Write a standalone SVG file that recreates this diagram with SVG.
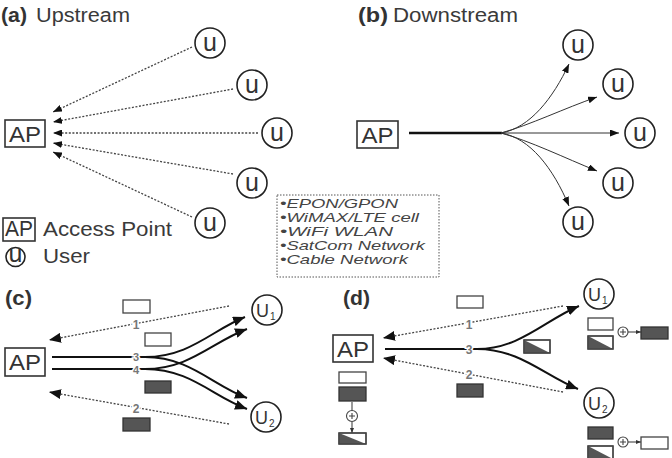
<svg xmlns="http://www.w3.org/2000/svg" width="672" height="458" viewBox="0 0 672 458">
<style>
text{font-family:"Liberation Sans",Arial,sans-serif;fill:#3a3a3a}
.t{font-size:20px}
.b{font-weight:bold;fill:#333}
.ap{fill:#fff;stroke:#333;stroke-width:1.6}
.apt{font-size:22px;fill:#333}
.uc{fill:#fff;stroke:#222;stroke-width:1.6}
.ut{font-size:25px;text-anchor:middle;fill:#333}
.Ut{font-size:19px;fill:#333}
.sub{font-size:10px;fill:#333}
.dot{fill:none;stroke:#444;stroke-width:1.3;stroke-dasharray:2 1.6}
.thin{fill:none;stroke:#333;stroke-width:1}
.thick{fill:none;stroke:#111;stroke-width:2.6}
.med{fill:none;stroke:#111;stroke-width:2}
.lbl{font-size:12px;font-weight:bold;fill:#777;text-anchor:middle;stroke:#fff;stroke-width:3;paint-order:stroke}
.lbs{font-size:11px}
.wr{fill:#fff;stroke:#444;stroke-width:1.3}
.dr{fill:#555;stroke:#333;stroke-width:1.3}
.tri{fill:#555}
.pc{fill:#fff;stroke:#444;stroke-width:1.1}
.pl{stroke:#444;stroke-width:1.1}
.info{font-size:13px;font-style:italic;fill:#444}
</style>
<defs>
<marker id="ah" markerUnits="userSpaceOnUse" markerWidth="9" markerHeight="7" refX="9" refY="3.5" orient="auto"><path d="M0,0 L9,3.5 L0,7 z" fill="#111"/></marker>
<marker id="ahb" markerUnits="userSpaceOnUse" markerWidth="12" markerHeight="10" refX="12" refY="5" orient="auto"><path d="M0,0 L12,5 L0,10 z" fill="#111"/></marker>
<marker id="ahs" markerUnits="userSpaceOnUse" markerWidth="5" markerHeight="4" refX="5" refY="2" orient="auto"><path d="M0,0 L5,2 L0,4 z" fill="#333"/></marker>
</defs>

<!-- Titles -->
<g id="title-a"><text x="1" y="22" class="t b" textLength="26" lengthAdjust="spacingAndGlyphs">(a)</text><text x="36" y="22" class="t" textLength="94" lengthAdjust="spacingAndGlyphs">Upstream</text></g>
<g id="title-b"><text x="358" y="22" class="t b" textLength="30" lengthAdjust="spacingAndGlyphs">(b)</text><text x="393" y="22" class="t" textLength="125" lengthAdjust="spacingAndGlyphs">Downstream</text></g>
<g id="title-c"><text x="5" y="305" class="t b" textLength="27" lengthAdjust="spacingAndGlyphs">(c)</text></g>
<g id="title-d"><text x="343" y="305" class="t b" textLength="27" lengthAdjust="spacingAndGlyphs">(d)</text></g>

<!-- Connectors -->
<g id="connectors">
 <!-- (a) -->
 <line class="dot" x1="192" y1="47" x2="53" y2="112" marker-end="url(#ah)"/>
 <line class="dot" x1="233" y1="89" x2="53" y2="122" marker-end="url(#ah)"/>
 <line class="dot" x1="258" y1="133" x2="53" y2="133" marker-end="url(#ah)"/>
 <line class="dot" x1="233" y1="174" x2="53" y2="143" marker-end="url(#ah)"/>
 <line class="dot" x1="192" y1="217" x2="53" y2="152" marker-end="url(#ah)"/>
 <!-- (b) -->
 <line class="thick" x1="409" y1="133" x2="502" y2="133"/>
 <path class="thin" d="M501,133 C530,128 553,98 569,64" marker-end="url(#ah)"/>
 <path class="thin" d="M501,133 C530,125 565,108 597,97" marker-end="url(#ah)"/>
 <path class="thin" d="M501,133 L619,133" marker-end="url(#ah)"/>
 <path class="thin" d="M501,133 C530,141 565,158 597,171" marker-end="url(#ah)"/>
 <path class="thin" d="M501,133 C530,138 553,168 569,206" marker-end="url(#ah)"/>
 <!-- (c) -->
 <line class="dot" x1="229" y1="306" x2="49" y2="340" marker-end="url(#ahb)"/>
 <line class="dot" x1="229" y1="424" x2="49" y2="392" marker-end="url(#ahb)"/>
 <line class="med" x1="52" y1="357" x2="146" y2="357"/>
 <line class="med" x1="52" y1="369" x2="146" y2="369"/>
 <path class="med" d="M145,357 C190,357 212,330 245,317" marker-end="url(#ahb)"/>
 <path class="med" d="M145,357 C190,357 212,385 247,398" marker-end="url(#ahb)"/>
 <path class="med" d="M145,369 C190,369 212,342 247,329" marker-end="url(#ahb)"/>
 <path class="med" d="M145,369 C190,369 212,396 247,409" marker-end="url(#ahb)"/>
 <text x="136" y="329" class="lbl">1</text>
 <text x="136" y="413" class="lbl">2</text>
 <text x="136" y="361" class="lbl lbs">3</text>
 <text x="136" y="374" class="lbl lbs">4</text>
 <!-- (d) -->
 <line class="dot" x1="563" y1="306" x2="383" y2="338" marker-end="url(#ahb)"/>
 <line class="dot" x1="563" y1="392" x2="383" y2="358" marker-end="url(#ahb)"/>
 <line class="med" x1="385" y1="349" x2="478" y2="349"/>
 <path class="med" d="M477,349 C520,349 545,320 579,306" marker-end="url(#ahb)"/>
 <path class="med" d="M477,349 C520,349 545,376 578,389" marker-end="url(#ahb)"/>
 <text x="469" y="329" class="lbl">1</text>
 <text x="469" y="353.5" class="lbl">3</text>
 <text x="469" y="379" class="lbl">2</text>
 <!-- (d) combine arrows -->
 <line class="pl" x1="628" y1="332" x2="641" y2="332" marker-end="url(#ahs)"/>
 <line class="pl" x1="628" y1="442" x2="641" y2="442" marker-end="url(#ahs)"/>
 <line class="pl" x1="352" y1="422" x2="352" y2="433" marker-end="url(#ahs)"/>
 <line class="pl" x1="352" y1="402" x2="352" y2="411"/>
</g>

<!-- (a) nodes -->
<g id="ap-a"><rect class="ap" x="5" y="120" width="40" height="27"/><text x="25" y="142" class="apt" text-anchor="middle" textLength="32" lengthAdjust="spacingAndGlyphs">AP</text></g>
<g id="u-a1"><circle class="uc" cx="210" cy="43" r="15"/><text x="210" y="51" class="ut">u</text></g>
<g id="u-a2"><circle class="uc" cx="252" cy="85" r="15"/><text x="252" y="93" class="ut">u</text></g>
<g id="u-a3"><circle class="uc" cx="277" cy="133" r="15"/><text x="277" y="141" class="ut">u</text></g>
<g id="u-a4"><circle class="uc" cx="252" cy="183" r="15"/><text x="252" y="191" class="ut">u</text></g>
<g id="u-a5"><circle class="uc" cx="210" cy="223" r="15"/><text x="210" y="231" class="ut">u</text></g>

<!-- legend -->
<g id="legend">
 <rect class="ap" x="3" y="218" width="32" height="23"/><text x="19" y="236" class="apt" text-anchor="middle" font-size="18" textLength="28" lengthAdjust="spacingAndGlyphs">AP</text>
 <text x="43" y="236" class="t" textLength="129" lengthAdjust="spacingAndGlyphs">Access Point</text>
 <circle class="uc" cx="15.5" cy="257" r="9.5" stroke-width="1.3"/><text x="15.5" y="262" class="ut" font-size="16">u</text>
 <text x="43" y="263" class="t" textLength="47" lengthAdjust="spacingAndGlyphs">User</text>
</g>

<!-- info box -->
<g id="info">
 <rect x="277" y="195" width="162" height="82" fill="#fff" stroke="#555" stroke-width="1" stroke-dasharray="1.5 1.5"/>
 <text x="280" y="208" class="info" textLength="118" lengthAdjust="spacingAndGlyphs">•EPON/GPON</text>
 <text x="280" y="222" class="info" textLength="139" lengthAdjust="spacingAndGlyphs">•WiMAX/LTE cell</text>
 <text x="280" y="236" class="info" textLength="113" lengthAdjust="spacingAndGlyphs">•WiFi WLAN</text>
 <text x="280" y="250" class="info" textLength="145" lengthAdjust="spacingAndGlyphs">•SatCom Network</text>
 <text x="280" y="264" class="info" textLength="128" lengthAdjust="spacingAndGlyphs">•Cable Network</text>
</g>

<!-- (b) nodes -->
<g id="ap-b"><rect class="ap" x="357" y="121" width="41" height="27"/><text x="377.5" y="143" class="apt" text-anchor="middle" textLength="32" lengthAdjust="spacingAndGlyphs">AP</text></g>
<g id="u-b1"><circle class="uc" cx="578" cy="45" r="15"/><text x="578" y="53" class="ut">u</text></g>
<g id="u-b2"><circle class="uc" cx="618" cy="84" r="15"/><text x="618" y="92" class="ut">u</text></g>
<g id="u-b3"><circle class="uc" cx="640" cy="133" r="15"/><text x="640" y="141" class="ut">u</text></g>
<g id="u-b4"><circle class="uc" cx="618" cy="183" r="15"/><text x="618" y="191" class="ut">u</text></g>
<g id="u-b5"><circle class="uc" cx="578" cy="222" r="15"/><text x="578" y="230" class="ut">u</text></g>

<!-- (c) nodes -->
<g id="ap-c"><rect class="ap" x="5" y="348" width="40" height="28"/><text x="25" y="370" class="apt" text-anchor="middle" textLength="32" lengthAdjust="spacingAndGlyphs">AP</text></g>
<g id="u1-c"><circle class="uc" cx="267" cy="310" r="15"/><text x="256" y="317" class="Ut" textLength="13" lengthAdjust="spacingAndGlyphs">U</text><text x="270" y="320" class="sub">1</text></g>
<g id="u2-c"><circle class="uc" cx="266" cy="417" r="15"/><text x="255" y="424" class="Ut" textLength="13" lengthAdjust="spacingAndGlyphs">U</text><text x="269" y="427" class="sub">2</text></g>
<g id="pkt-c">
 <rect class="wr" x="123" y="300" width="27" height="13"/>
 <rect class="wr" x="145" y="333" width="26" height="13"/>
 <rect class="dr" x="145" y="381" width="26" height="12"/>
 <rect class="dr" x="123" y="418" width="27" height="13"/>
</g>

<!-- (d) nodes -->
<g id="ap-d"><rect class="ap" x="333" y="335" width="40" height="27"/><text x="353" y="357" class="apt" text-anchor="middle" textLength="32" lengthAdjust="spacingAndGlyphs">AP</text></g>
<g id="u1-d"><circle class="uc" cx="599" cy="294" r="15"/><text x="588" y="301" class="Ut" textLength="13" lengthAdjust="spacingAndGlyphs">U</text><text x="602" y="304" class="sub">1</text></g>
<g id="u2-d"><circle class="uc" cx="599" cy="403" r="15"/><text x="588" y="410" class="Ut" textLength="13" lengthAdjust="spacingAndGlyphs">U</text><text x="602" y="413" class="sub">2</text></g>
<g id="pkt-d">
 <rect class="wr" x="457" y="296" width="26" height="12"/>
 <rect class="dr" x="457" y="384" width="26" height="13"/>
 <rect class="wr" x="524" y="340" width="26" height="13"/><path class="tri" d="M524,340 L550,353 L524,353 z"/><rect x="524" y="340" width="26" height="13" fill="none" stroke="#444" stroke-width="1.3"/>
</g>
<g id="dec-u1">
 <rect class="wr" x="588" y="318" width="25" height="12"/>
 <rect class="wr" x="588" y="336" width="25" height="13"/><path class="tri" d="M588,336 L613,349 L588,349 z"/><rect x="588" y="336" width="25" height="13" fill="none" stroke="#444" stroke-width="1.3"/>
 <circle class="pc" cx="623" cy="332" r="5"/><path class="pl" d="M620,332 H626 M623,329 V335"/>
 <rect class="dr" x="641" y="327" width="27" height="12"/>
</g>
<g id="dec-u2">
 <rect class="dr" x="588" y="427" width="25" height="12"/>
 <rect class="wr" x="588" y="446" width="25" height="13"/><path class="tri" d="M588,446 L613,459 L588,459 z"/><rect x="588" y="446" width="25" height="13" fill="none" stroke="#444" stroke-width="1.3"/>
 <circle class="pc" cx="623" cy="442" r="5"/><path class="pl" d="M620,442 H626 M623,439 V445"/>
 <rect class="wr" x="641" y="437" width="27" height="12"/>
</g>
<g id="enc-ap">
 <rect class="wr" x="339" y="372" width="27" height="11"/>
 <rect class="dr" x="339" y="387" width="27" height="14"/>
 <circle class="pc" cx="352" cy="416" r="5.5"/><path class="pl" d="M349,416 H355 M352,413 V419"/>
 <rect class="wr" x="339" y="433" width="27" height="11"/><path class="tri" d="M339,433 L366,444 L339,444 z"/><rect x="339" y="433" width="27" height="11" fill="none" stroke="#444" stroke-width="1.3"/>
</g>
</svg>
